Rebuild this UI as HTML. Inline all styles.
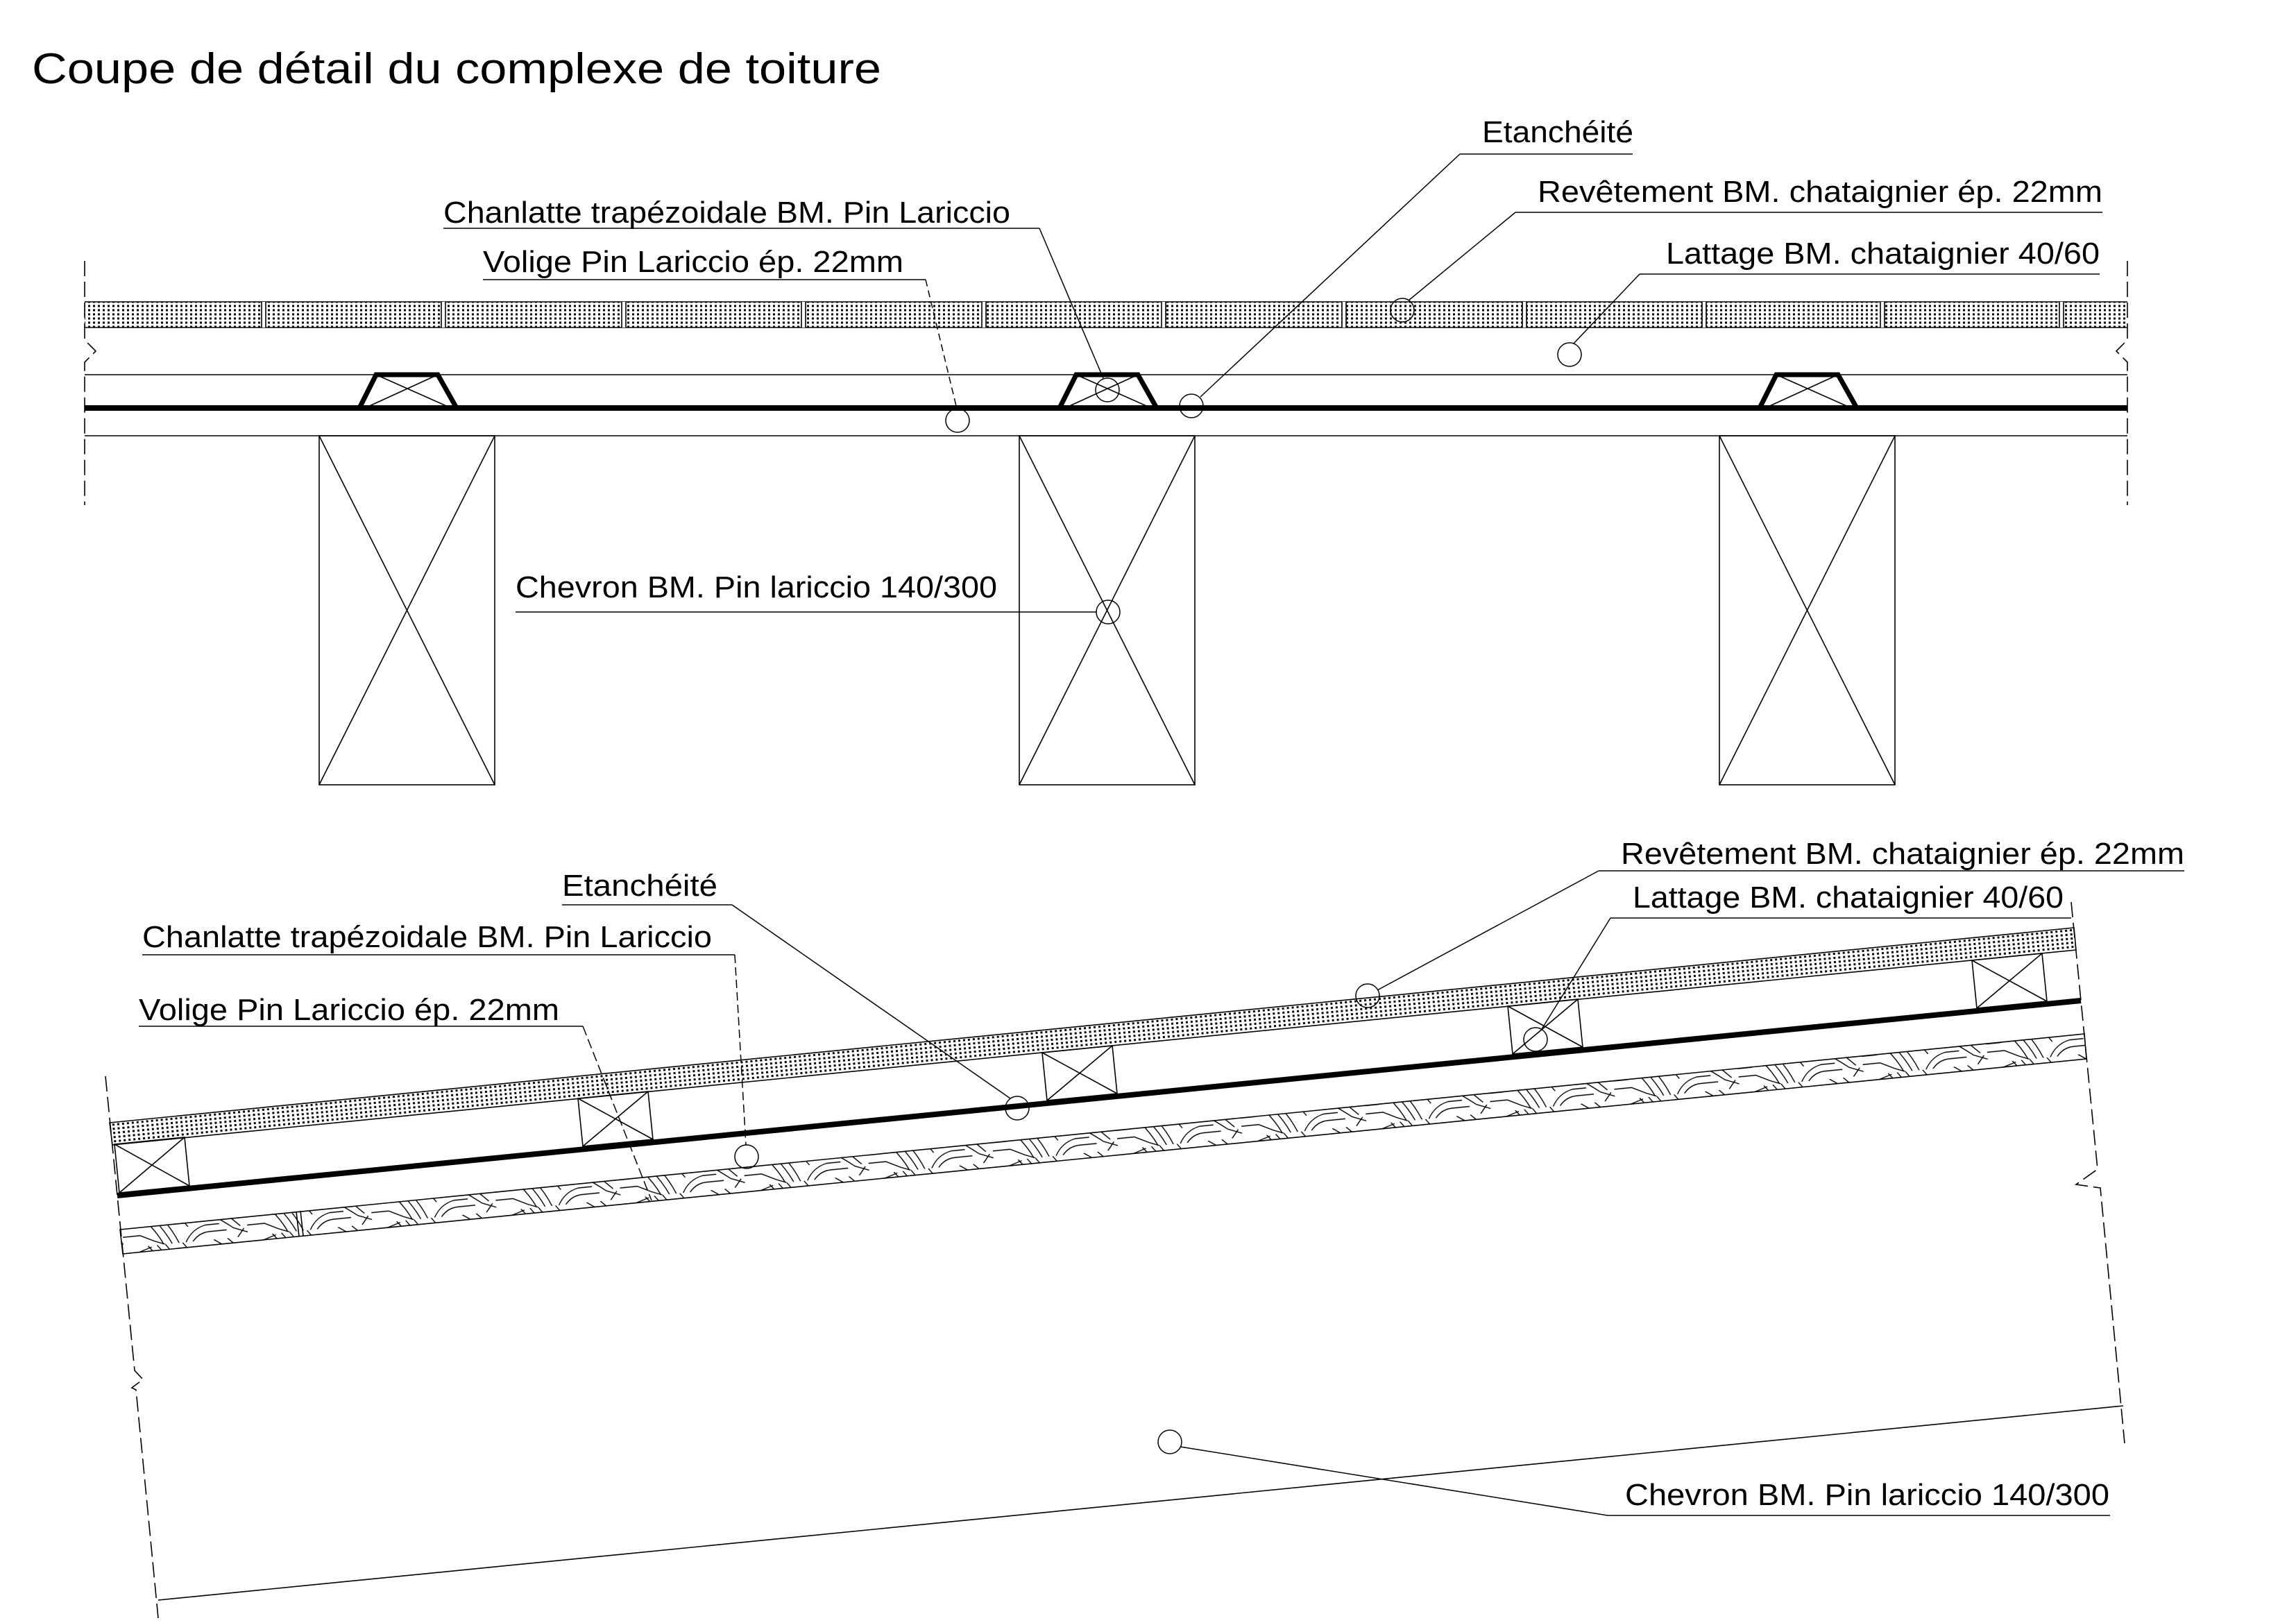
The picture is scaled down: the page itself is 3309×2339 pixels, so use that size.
<!DOCTYPE html>
<html><head><meta charset="utf-8"><style>
html,body{margin:0;padding:0;background:#fff}
svg{display:block}
text{font-family:"Liberation Sans",Arial,sans-serif;fill:#000}
</style></head><body>
<svg width="3309" height="2339" viewBox="0 0 3309 2339" xmlns="http://www.w3.org/2000/svg">
<defs>
<pattern id="dots" width="7" height="6" patternUnits="userSpaceOnUse">
<rect x="1" y="1.5" width="3" height="3" fill="#000"/>
</pattern>
<pattern id="dotsR" width="7" height="6" patternUnits="userSpaceOnUse" patternTransform="rotate(-5.67)">
<rect x="1" y="1.5" width="3" height="3" fill="#000"/>
</pattern>
<pattern id="wood" width="180" height="36" patternUnits="userSpaceOnUse" patternTransform="rotate(-5.67) translate(0,8)">
<g fill="none" stroke="#000" stroke-width="1.4">
<path d="M0 8 L20 8 L40 2"/><path d="M0 20 L25 20 L45 30 L60 36"/>
<path d="M35 0 Q50 18 58 36"/><path d="M48 0 Q62 18 70 36"/><path d="M60 0 Q72 16 80 36"/>
<path d="M90 36 Q100 18 120 14 L140 14"/><path d="M100 36 Q110 24 125 24 L150 24"/>
<path d="M130 0 Q145 10 160 22 L180 30"/><path d="M150 0 Q160 10 170 20"/>
<path d="M85 0 L95 14"/><path d="M165 36 L175 24"/>
</g>
</pattern>
</defs>

<text x="46" y="120" font-size="62" textLength="1224" lengthAdjust="spacingAndGlyphs">Coupe de détail du complexe de toiture</text>

<!-- ===== TOP SECTION ===== -->
<g stroke="#000" fill="none" stroke-width="1.6">
<rect x="122" y="435" width="2944" height="37" fill="url(#dots)" stroke="none"/>
<line x1="122" y1="435" x2="3066" y2="435"/>
<line x1="122" y1="472" x2="3066" y2="472"/>
<g stroke="#fff" stroke-width="6">
<line x1="380" y1="435" x2="380" y2="472"/><line x1="639" y1="435" x2="639" y2="472"/>
<line x1="899" y1="435" x2="899" y2="472"/><line x1="1158" y1="435" x2="1158" y2="472"/>
<line x1="1418" y1="435" x2="1418" y2="472"/><line x1="1677" y1="435" x2="1677" y2="472"/>
<line x1="1937" y1="435" x2="1937" y2="472"/><line x1="2197" y1="435" x2="2197" y2="472"/>
<line x1="2456" y1="435" x2="2456" y2="472"/><line x1="2713" y1="435" x2="2713" y2="472"/>
<line x1="2971" y1="435" x2="2971" y2="472"/>
</g>
<g>
<line x1="377" y1="435" x2="377" y2="472"/><line x1="383" y1="435" x2="383" y2="472"/>
<line x1="636" y1="435" x2="636" y2="472"/><line x1="642" y1="435" x2="642" y2="472"/>
<line x1="896" y1="435" x2="896" y2="472"/><line x1="902" y1="435" x2="902" y2="472"/>
<line x1="1155" y1="435" x2="1155" y2="472"/><line x1="1161" y1="435" x2="1161" y2="472"/>
<line x1="1415" y1="435" x2="1415" y2="472"/><line x1="1421" y1="435" x2="1421" y2="472"/>
<line x1="1674" y1="435" x2="1674" y2="472"/><line x1="1680" y1="435" x2="1680" y2="472"/>
<line x1="1934" y1="435" x2="1934" y2="472"/><line x1="1940" y1="435" x2="1940" y2="472"/>
<line x1="2194" y1="435" x2="2194" y2="472"/><line x1="2200" y1="435" x2="2200" y2="472"/>
<line x1="2453" y1="435" x2="2453" y2="472"/><line x1="2459" y1="435" x2="2459" y2="472"/>
<line x1="2710" y1="435" x2="2710" y2="472"/><line x1="2716" y1="435" x2="2716" y2="472"/>
<line x1="2968" y1="435" x2="2968" y2="472"/><line x1="2974" y1="435" x2="2974" y2="472"/>
</g>
<line x1="122" y1="540" x2="3066" y2="540"/>
<line x1="122" y1="588" x2="3066" y2="588" stroke-width="8"/>
<line x1="122" y1="628" x2="3066" y2="628"/>
<!-- side dashed lines -->
<polyline points="122,376 122,490 138,506 122,522 122,728" stroke-dasharray="22,8"/>
<polyline points="3066,376 3066,490 3050,506 3066,522 3066,728" stroke-dasharray="22,8"/>
<!-- chanlattes -->
<g>
<polygon points="518,588 542,540 631,540 658,588" stroke-width="7" stroke-linejoin="miter"/>
<line x1="542" y1="540" x2="650" y2="588"/><line x1="631" y1="540" x2="526" y2="588"/>
<polygon points="1527,588 1551,540 1640,540 1667,588" stroke-width="7"/>
<line x1="1551" y1="540" x2="1659" y2="588"/><line x1="1640" y1="540" x2="1535" y2="588"/>
<polygon points="2536,588 2560,540 2649,540 2676,588" stroke-width="7"/>
<line x1="2560" y1="540" x2="2668" y2="588"/><line x1="2649" y1="540" x2="2544" y2="588"/>
</g>
<!-- chevrons -->
<rect x="460" y="628" width="253" height="503"/><line x1="460" y1="628" x2="713" y2="1131"/><line x1="713" y1="628" x2="460" y2="1131"/>
<rect x="1469" y="628" width="253" height="503"/><line x1="1469" y1="628" x2="1722" y2="1131"/><line x1="1722" y1="628" x2="1469" y2="1131"/>
<rect x="2478" y="628" width="253" height="503"/><line x1="2478" y1="628" x2="2731" y2="1131"/><line x1="2731" y1="628" x2="2478" y2="1131"/>
<!-- leaders -->
<g stroke-width="1.5">
<line x1="2104" y1="222" x2="2353" y2="222"/><line x1="2104" y1="222" x2="1730" y2="572"/><circle cx="1717" cy="585" r="17"/>
<line x1="2184" y1="306" x2="3030" y2="306"/><line x1="2184" y1="306" x2="2030" y2="433"/><circle cx="2021" cy="447" r="17"/>
<line x1="639" y1="329" x2="1498" y2="329"/><line x1="1498" y1="329" x2="1590" y2="545"/><circle cx="1596" cy="562" r="17"/>
<line x1="2363" y1="395" x2="3026" y2="395"/><line x1="2363" y1="395" x2="2268" y2="495"/><circle cx="2262" cy="511" r="17"/>
<line x1="696" y1="403" x2="1334" y2="403"/><line x1="1334" y1="403" x2="1379" y2="589" stroke-dasharray="10,6"/><circle cx="1380" cy="606" r="17"/>
<line x1="743" y1="882" x2="1580" y2="882"/><circle cx="1597" cy="882" r="17"/>
</g>
</g>
<g font-size="44">
<text x="2136" y="205" textLength="218" lengthAdjust="spacingAndGlyphs">Etanchéité</text>
<text x="2216" y="291" textLength="814" lengthAdjust="spacingAndGlyphs">Revêtement BM. chataignier ép. 22mm</text>
<text x="639" y="321" textLength="817" lengthAdjust="spacingAndGlyphs">Chanlatte trapézoidale BM. Pin Lariccio</text>
<text x="2401" y="380" textLength="625" lengthAdjust="spacingAndGlyphs">Lattage BM. chataignier 40/60</text>
<text x="696" y="392" textLength="606" lengthAdjust="spacingAndGlyphs">Volige Pin Lariccio ép. 22mm</text>
<text x="743" y="861" textLength="694" lengthAdjust="spacingAndGlyphs">Chevron BM. Pin lariccio 140/300</text>
</g>

<!-- ===== BOTTOM SECTION ===== -->
<g stroke="#000" fill="none" stroke-width="1.6">
<polygon points="158,1618 2989,1337 2992,1369 162,1650" fill="url(#dotsR)"/>
<line x1="169" y1="1723" x2="2999" y2="1442" stroke-width="8"/>
<polygon points="173,1772 3004,1490 3007,1526 177,1807" fill="url(#wood)"/>
<line x1="427" y1="1746" x2="431" y2="1782"/><line x1="433" y1="1745" x2="437" y2="1781"/>
<!-- lattage boxes -->
<polygon points="165,1649 266,1639 273,1709 172,1719"/><line x1="165" y1="1649" x2="273" y2="1709"/><line x1="266" y1="1639" x2="172" y2="1719"/>
<polygon points="833,1583 934,1573 941,1642 840,1652"/><line x1="833" y1="1583" x2="941" y2="1642"/><line x1="934" y1="1573" x2="840" y2="1652"/>
<polygon points="1502,1517 1603,1507 1610,1576 1509,1586"/><line x1="1502" y1="1517" x2="1610" y2="1576"/><line x1="1603" y1="1507" x2="1509" y2="1586"/>
<polygon points="2173,1450 2274,1440 2281,1509 2180,1519"/><line x1="2173" y1="1450" x2="2281" y2="1509"/><line x1="2274" y1="1440" x2="2180" y2="1519"/>
<polygon points="2842,1384 2943,1374 2950,1443 2849,1453"/><line x1="2842" y1="1384" x2="2950" y2="1443"/><line x1="2943" y1="1374" x2="2849" y2="1453"/>
<!-- chevron bottom -->
<line x1="228" y1="2306" x2="3060" y2="2026"/>
<!-- side dashed -->
<polyline points="152,1551 194,1975 206,1988 190,2000 196,2003 228,2332" stroke-dasharray="22,8"/>
<polyline points="2985,1300 3023,1685 2992,1707 3027,1712 3062,2080" stroke-dasharray="22,8"/>
<!-- leaders -->
<g stroke-width="1.5">
<line x1="2304" y1="1255" x2="3148" y2="1255"/><line x1="2304" y1="1255" x2="1985" y2="1427"/><circle cx="1971" cy="1435" r="17"/>
<line x1="2321" y1="1323" x2="2985" y2="1323"/><line x1="2321" y1="1323" x2="2222" y2="1483"/><circle cx="2213" cy="1498" r="17"/>
<line x1="810" y1="1304" x2="1055" y2="1304"/><line x1="1055" y1="1304" x2="1456" y2="1583"/><circle cx="1466" cy="1597" r="17"/>
<line x1="205" y1="1376" x2="1059" y2="1376"/><line x1="1059" y1="1376" x2="1075" y2="1650" stroke-dasharray="12,6"/><circle cx="1076" cy="1667" r="17"/>
<line x1="200" y1="1479" x2="840" y2="1479"/><line x1="840" y1="1479" x2="939" y2="1730" stroke-dasharray="14,6"/>
<line x1="2317" y1="2184" x2="3041" y2="2184"/><line x1="2317" y1="2184" x2="1701" y2="2085"/><circle cx="1686" cy="2078" r="17"/>
</g>
</g>
<g font-size="44">
<text x="2336" y="1245" textLength="812" lengthAdjust="spacingAndGlyphs">Revêtement BM. chataignier ép. 22mm</text>
<text x="2353" y="1308" textLength="621" lengthAdjust="spacingAndGlyphs">Lattage BM. chataignier 40/60</text>
<text x="810" y="1291" textLength="224" lengthAdjust="spacingAndGlyphs">Etanchéité</text>
<text x="205" y="1365" textLength="821" lengthAdjust="spacingAndGlyphs">Chanlatte trapézoidale BM. Pin Lariccio</text>
<text x="200" y="1470" textLength="606" lengthAdjust="spacingAndGlyphs">Volige Pin Lariccio ép. 22mm</text>
<text x="2342" y="2169" textLength="698" lengthAdjust="spacingAndGlyphs">Chevron BM. Pin lariccio 140/300</text>
</g>
</svg>
</body></html>
